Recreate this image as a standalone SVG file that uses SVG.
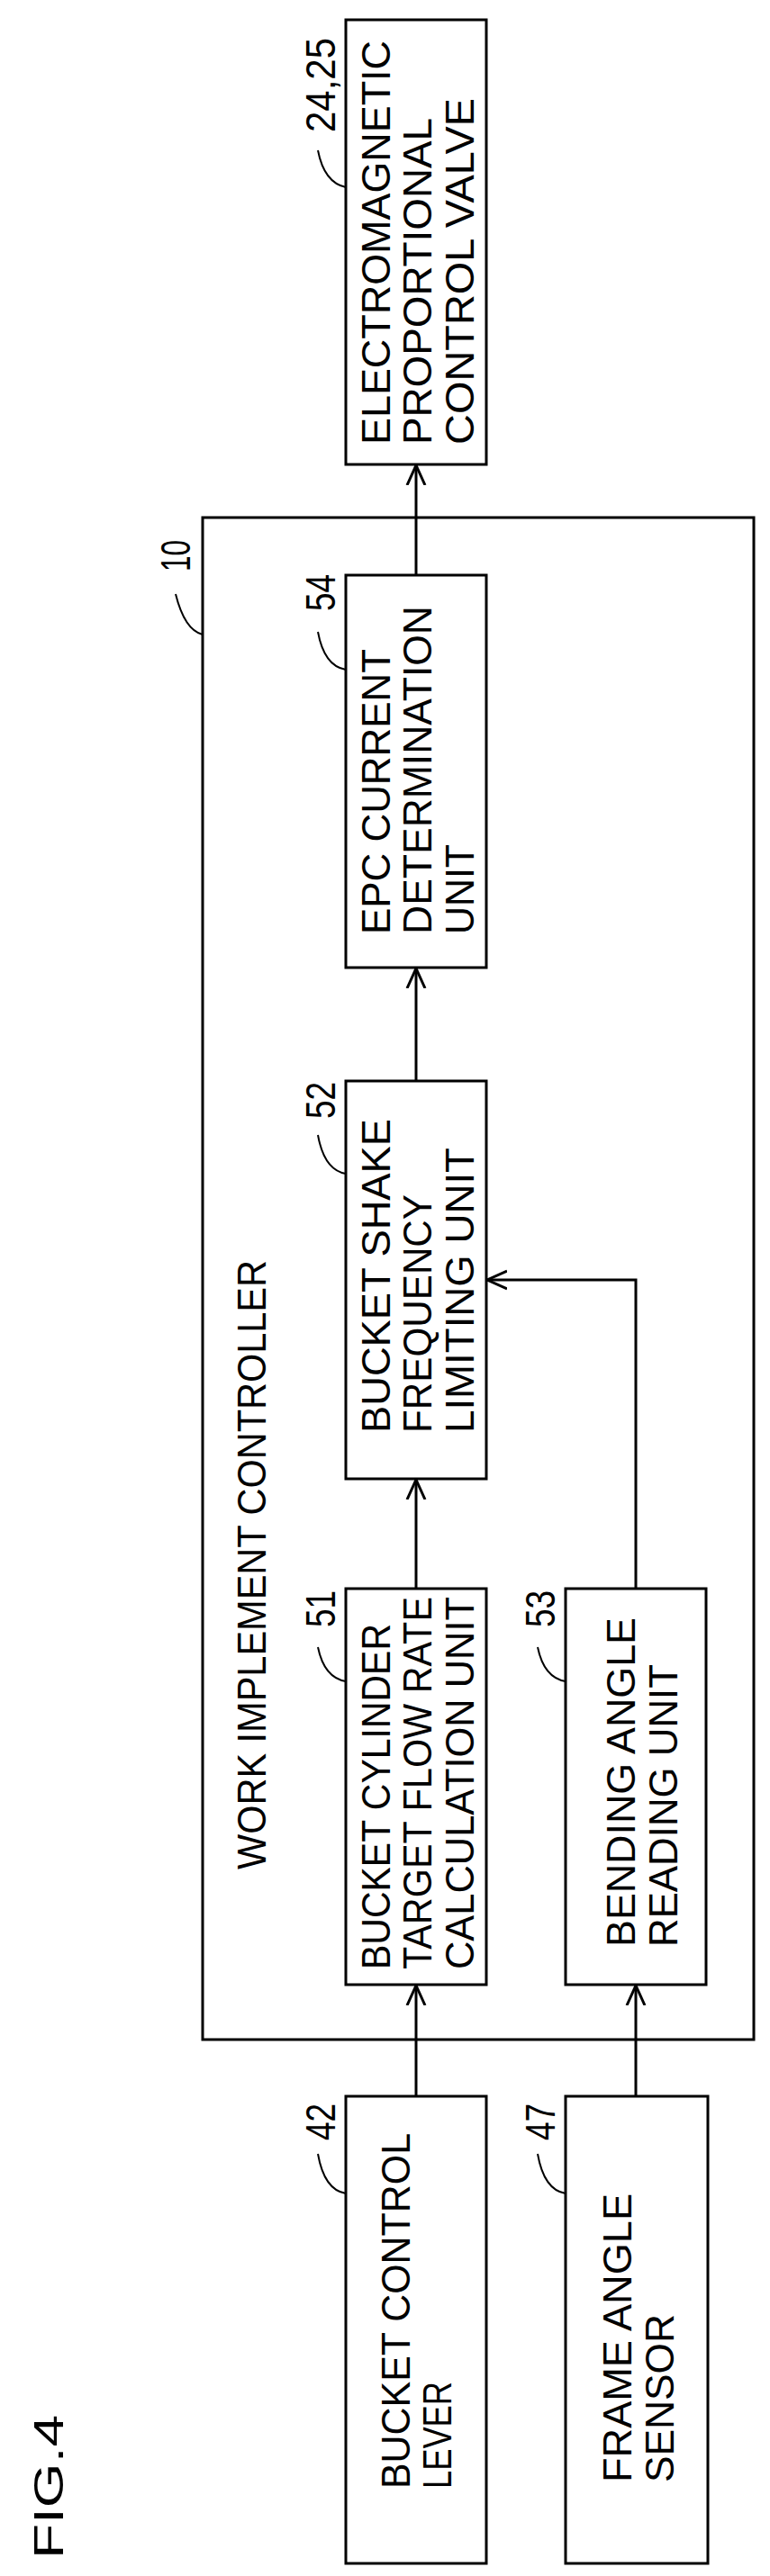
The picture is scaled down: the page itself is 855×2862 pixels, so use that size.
<svg xmlns="http://www.w3.org/2000/svg" width="855" height="2862" viewBox="0 0 855 2862">
<style>
.b{fill:#fff;stroke:#000;stroke-width:3}
.t{font-family:"Liberation Sans",Arial,sans-serif;font-size:45px;fill:#000}
.n{font-family:"Liberation Sans",Arial,sans-serif;font-size:47px;fill:#000}
.l{fill:none;stroke:#000;stroke-width:2}
.c{fill:none;stroke:#000;stroke-width:3}
</style>
<defs>
<marker id="a" viewBox="0 0 24 24" refX="22" refY="12" markerWidth="24" markerHeight="24" markerUnits="userSpaceOnUse" orient="auto">
<path d="M0,2 L22,12 L0,22" fill="none" stroke="#000" stroke-width="3"/>
</marker>
</defs>
<rect width="855" height="2862" fill="#fff"/>
<text class="n" transform="translate(70,2843) rotate(-90)" font-size="60" textLength="160" lengthAdjust="spacingAndGlyphs">FIG.4</text>
<g id="controller">
<rect class="b" x="225" y="575" width="612" height="1691"/>
<text class="t" transform="translate(295,2077) rotate(-90)" font-size="40" textLength="677" lengthAdjust="spacingAndGlyphs">WORK IMPLEMENT CONTROLLER</text>
<text class="n" transform="translate(211,635) rotate(-90)" textLength="35" lengthAdjust="spacingAndGlyphs">10</text>
<path class="l" d="M195,660 Q205,700 225,705"/>
</g>
<g id="valve">
<rect class="b" x="384" y="22" width="156" height="494"/>
<text class="t" transform="translate(433,494) rotate(-90)" textLength="449" lengthAdjust="spacingAndGlyphs">ELECTROMAGNETIC</text>
<text class="t" transform="translate(479,494) rotate(-90)" textLength="363" lengthAdjust="spacingAndGlyphs">PROPORTIONAL</text>
<text class="t" transform="translate(526,494) rotate(-90)" textLength="385" lengthAdjust="spacingAndGlyphs">CONTROL VALVE</text>
<text class="n" transform="translate(372,147) rotate(-90)" textLength="105" lengthAdjust="spacingAndGlyphs">24,25</text>
<path class="l" d="M353,167 Q360,203 384,208"/>
</g>
<g id="u54">
<rect class="b" x="384" y="639" width="156" height="436"/>
<text class="t" transform="translate(433,1038) rotate(-90)" textLength="317" lengthAdjust="spacingAndGlyphs">EPC CURRENT</text>
<text class="t" transform="translate(479,1038) rotate(-90)" textLength="365" lengthAdjust="spacingAndGlyphs">DETERMINATION</text>
<text class="t" transform="translate(526,1038) rotate(-90)" textLength="100" lengthAdjust="spacingAndGlyphs">UNIT</text>
<text class="n" transform="translate(372,679) rotate(-90)" textLength="41" lengthAdjust="spacingAndGlyphs">54</text>
<path class="l" d="M353,702 Q360,740 384,744"/>
</g>
<g id="u52">
<rect class="b" x="384" y="1201" width="156" height="442"/>
<text class="t" transform="translate(433,1592) rotate(-90)" textLength="349" lengthAdjust="spacingAndGlyphs">BUCKET SHAKE</text>
<text class="t" transform="translate(479,1592) rotate(-90)" textLength="265" lengthAdjust="spacingAndGlyphs">FREQUENCY</text>
<text class="t" transform="translate(526,1592) rotate(-90)" textLength="317" lengthAdjust="spacingAndGlyphs">LIMITING UNIT</text>
<text class="n" transform="translate(372,1243) rotate(-90)" textLength="41" lengthAdjust="spacingAndGlyphs">52</text>
<path class="l" d="M353,1261 Q360,1300 384,1304"/>
</g>
<g id="u51">
<rect class="b" x="384" y="1765" width="156" height="440"/>
<text class="t" transform="translate(433,2188) rotate(-90)" textLength="384" lengthAdjust="spacingAndGlyphs">BUCKET CYLINDER</text>
<text class="t" transform="translate(479,2188) rotate(-90)" textLength="414" lengthAdjust="spacingAndGlyphs">TARGET FLOW RATE</text>
<text class="t" transform="translate(526,2188) rotate(-90)" textLength="414" lengthAdjust="spacingAndGlyphs">CALCULATION UNIT</text>
<text class="n" transform="translate(372,1808) rotate(-90)" textLength="41" lengthAdjust="spacingAndGlyphs">51</text>
<path class="l" d="M353,1830 Q360,1864 384,1868"/>
</g>
<g id="u53">
<rect class="b" x="628" y="1765" width="156" height="440"/>
<text class="t" transform="translate(705,2163) rotate(-90)" textLength="366" lengthAdjust="spacingAndGlyphs">BENDING ANGLE</text>
<text class="t" transform="translate(752,2163) rotate(-90)" textLength="314" lengthAdjust="spacingAndGlyphs">READING UNIT</text>
<text class="n" transform="translate(616,1808) rotate(-90)" textLength="41" lengthAdjust="spacingAndGlyphs">53</text>
<path class="l" d="M597,1830 Q604,1864 628,1868"/>
</g>
<g id="lever42">
<rect class="b" x="384" y="2329" width="156" height="519"/>
<text class="t" transform="translate(455,2765) rotate(-90)" textLength="395" lengthAdjust="spacingAndGlyphs">BUCKET CONTROL</text>
<text class="t" transform="translate(501,2765) rotate(-90)" textLength="119" lengthAdjust="spacingAndGlyphs">LEVER</text>
<text class="n" transform="translate(372,2378) rotate(-90)" textLength="41" lengthAdjust="spacingAndGlyphs">42</text>
<path class="l" d="M353,2393 Q360,2433 384,2437"/>
</g>
<g id="sensor47">
<rect class="b" x="628" y="2329" width="158" height="519"/>
<text class="t" transform="translate(701,2758) rotate(-90)" textLength="321" lengthAdjust="spacingAndGlyphs">FRAME ANGLE</text>
<text class="t" transform="translate(748,2758) rotate(-90)" textLength="187" lengthAdjust="spacingAndGlyphs">SENSOR</text>
<text class="n" transform="translate(616,2378) rotate(-90)" textLength="41" lengthAdjust="spacingAndGlyphs">47</text>
<path class="l" d="M597,2393 Q604,2433 628,2437"/>
</g>
<g id="connectors">
<path class="c" d="M462,639 V517" marker-end="url(#a)"/>
<path class="c" d="M462,1201 V1076" marker-end="url(#a)"/>
<path class="c" d="M462,1765 V1644" marker-end="url(#a)"/>
<path class="c" d="M462,2329 V2206" marker-end="url(#a)"/>
<path class="c" d="M706,2329 V2206" marker-end="url(#a)"/>
<path class="c" d="M706,1765 V1422 H541" marker-end="url(#a)"/>
</g>
</svg>
